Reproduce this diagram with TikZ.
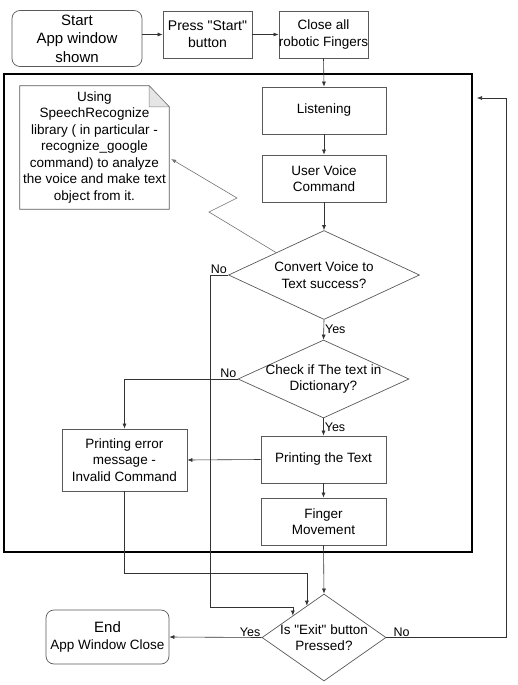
\documentclass[tikz,border=0pt]{standalone}
\usepackage{fontspec}
\setmainfont{Liberation Sans}[Ligatures=TeXOff]
\usetikzlibrary{shapes.geometric,arrows.meta,calc}

\newcommand{\boxfont}{\fontsize{13.5}{16.5}\selectfont}
\newcommand{\bigboxfont}{\fontsize{15}{18.5}\selectfont}

\begin{document}
\begin{tikzpicture}[x=1pt,y=1pt,yscale=-1,xscale=1,
  procbox/.style={draw=black!65, line width=0.7pt, align=center, inner sep=0pt, font=\boxfont},
  termbox/.style={procbox, rounded corners=8pt},
  decision/.style={diamond, draw=black!65, line width=0.7pt, inner sep=0pt},
  dtext/.style={align=center, font=\boxfont, inner sep=0pt},
  conn/.style={draw=black!80, line width=0.6pt, -{Latex[length=5pt,width=4pt]}},
  elabel/.style={font=\fontsize{12.5}{14}\selectfont, inner sep=1pt}
]
\useasboundingbox (0,0) rectangle (517,685);

% Text Node
\node [termbox, font=\bigboxfont, minimum width=130pt, minimum height=56pt] (start) at (77,38.5) {Start\\App window\\shown};
% Text Node
\node [procbox, font=\fontsize{14}{17}\selectfont, minimum width=89pt, minimum height=47pt] (press) at (207.5,34.5) {Press "Start"\\button};
% Text Node
\node [procbox, minimum width=89pt, minimum height=47pt] (close) at (323.5,34.5) {Close all\\robotic Fingers};

% main loop frame
\draw [line width=1.8pt] (4,74) rectangle (472,552);

% Text Node
\node [procbox, minimum width=124pt, minimum height=47pt] (listen) at (324,110.5) {Listening};
% Text Node
\node [procbox, minimum width=124pt, minimum height=47pt] (voice) at (324,178.5) {User Voice\\Command};
% Text Node
\node [dtext, minimum width=149pt, minimum height=123pt] (note) at (94.5,147.5) {Using\\SpeechRecognize\\library ( in particular -\\recognize\_google\\command) to analyze\\the voice and make text\\object from it.};
\draw [draw=black!65, line width=0.7pt] (note.south west) -- (note.north west) -- ($(note.north east)+(-20,0)$) -- ($(note.north east)+(0,21)$) -- (note.south east) -- cycle;
\draw [draw=black!50, fill=black!10, line width=0.5pt] ($(note.north east)+(-20,0)$) -- ($(note.north east)+(-20,21)$) -- ($(note.north east)+(0,21)$) -- cycle;
% Text Node
\node [decision, minimum width=191pt, minimum height=89pt, label={[dtext]center:{Convert Voice to\\Text success?}}] (convert) at (324,275) {};
% Text Node
\node [decision, minimum width=171pt, minimum height=78pt, label={[dtext]center:{Check if The text in\\Dictionary?}}] (check) at (323.5,379) {};
% Text Node
\node [procbox, minimum width=125pt, minimum height=62pt] (error) at (124.5,460) {Printing error\\message -\\Invalid Command};
% Text Node
\node [procbox, minimum width=125pt, minimum height=47pt] (printtext) at (323.5,459.5) {Printing the Text};
% Text Node
\node [procbox, minimum width=125pt, minimum height=47pt] (finger) at (323.5,521.5) {Finger\\Movement};
% Text Node
\node [decision, minimum width=124pt, minimum height=87pt, label={[dtext]center:{Is "Exit" button\\Pressed?}}] (exit) at (324,637.5) {};
% Text Node
\node [termbox, minimum width=123pt, minimum height=54pt] (endbox) at (107.5,637) {{\bigboxfont End}\\App Window Close};

\coordinate (zigA) at (209,212);
\coordinate (zigB) at (237,198);
\coordinate (errend) at ($(exit.north west)!0.45!(exit.north)$);
\coordinate (loopin) at (477,98);

% Connection
\draw [conn] (start.east |- press.west) -- (press.west);
% Connection
\draw [conn] (press.east) -- (close.west);
% Connection
\draw [conn] (close.south) -- (listen.north);
% Connection
\draw [conn] (listen.south) -- (voice.north);
% Connection
\draw [conn] (voice.south) -- (convert.north);
% Connection
\draw [conn, draw=black!55] (convert.north west) -- (zigA) -- (zigB) -- ($(note.east)+(2,11.5)$);
% Connection
\draw [conn] (convert.south) -- node [right, elabel] {Yes} (check.north);
% Connection
\draw [conn] (convert.west) node [above left, elabel] {No} -- ++(-18,0) |- ($(exit.north west)+(0,-8)$) -- (exit.north west);
% Connection
\draw [conn] (check.south) -- node [right, elabel] {Yes} (printtext.north);
% Connection
\draw [conn] (check.west) node [above left, elabel] {No} -| (error.north);
% Connection
\draw [conn] (printtext.west) -- (error.east);
% Connection
\draw [conn] (printtext.south) -- (finger.north);
% Connection
\draw [conn] (finger.south) -- (exit.north);
% Connection
\draw [conn] (error.south) -- ++(0,82) -| (errend);
% Connection
\draw [conn] (exit.west) node [above left, elabel] {Yes} -- (endbox.east);
% Connection
\draw [conn] (exit.east) node [above right, elabel, xshift=6pt] {No} -- ++(120,0) |- (loopin);

\end{tikzpicture}
\end{document}
